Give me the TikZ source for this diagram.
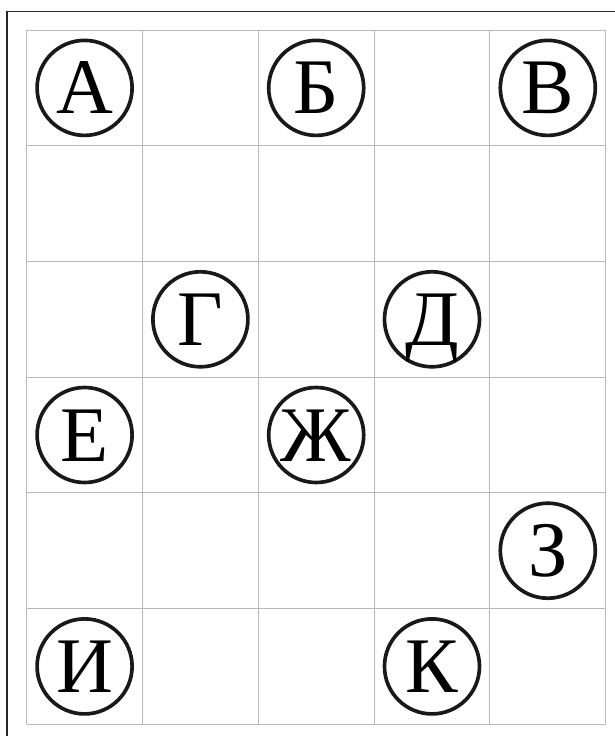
\documentclass[tikz,border=0pt]{standalone}
\usepackage{fontspec}
\setmainfont{Liberation Serif}
\usepackage{tikz}
\usepackage{xcolor}

\tikzset{
  gridline/.style={draw=gray!55, line width=0.7pt},
  letterring/.style={circle, draw=black!90, line width=2.6pt, minimum size=2.375cm,
    inner sep=0pt, text height=1.3cm, text depth=0pt,
    font=\fontsize{56}{60}\selectfont}
}

\begin{document}
\begin{tikzpicture}[x=0.025cm,y=-0.025cm]
\useasboundingbox (0,0) rectangle (615,736);
% outer frame
\draw[black!85, line width=1.1pt] (7,736) -- (7,11.5) -- (615,11.5);
% grid
\foreach \i in {0,...,5}
  \draw[gridline] ({26.7+115.8*\i},30) -- ({26.7+115.8*\i},724.2);
\foreach \j in {0,...,6}
  \draw[gridline] (26.7,{30+115.7*\j}) -- (605.7,{30+115.7*\j});
% letters
\node[letterring] (lA)  at (84.6,87.9)  {А};
\node[letterring] (lB)  at (316.2,87.9) {Б};
\node[letterring] (lV)  at (547.8,87.9) {В};
\node[letterring] (lG)  at (200.4,319.3) {Г};
\node[letterring] (lD)  at (432.0,319.3) {Д};
\node[letterring] (lE)  at (84.6,435.0) {Е};
\node[letterring] (lZh) at (316.2,435.0) {Ж};
\node[letterring] (lZ)  at (547.8,550.7) {З};
\node[letterring] (lI)  at (84.6,666.4) {И};
\node[letterring] (lK)  at (432.0,666.4) {К};
\end{tikzpicture}
\end{document}
